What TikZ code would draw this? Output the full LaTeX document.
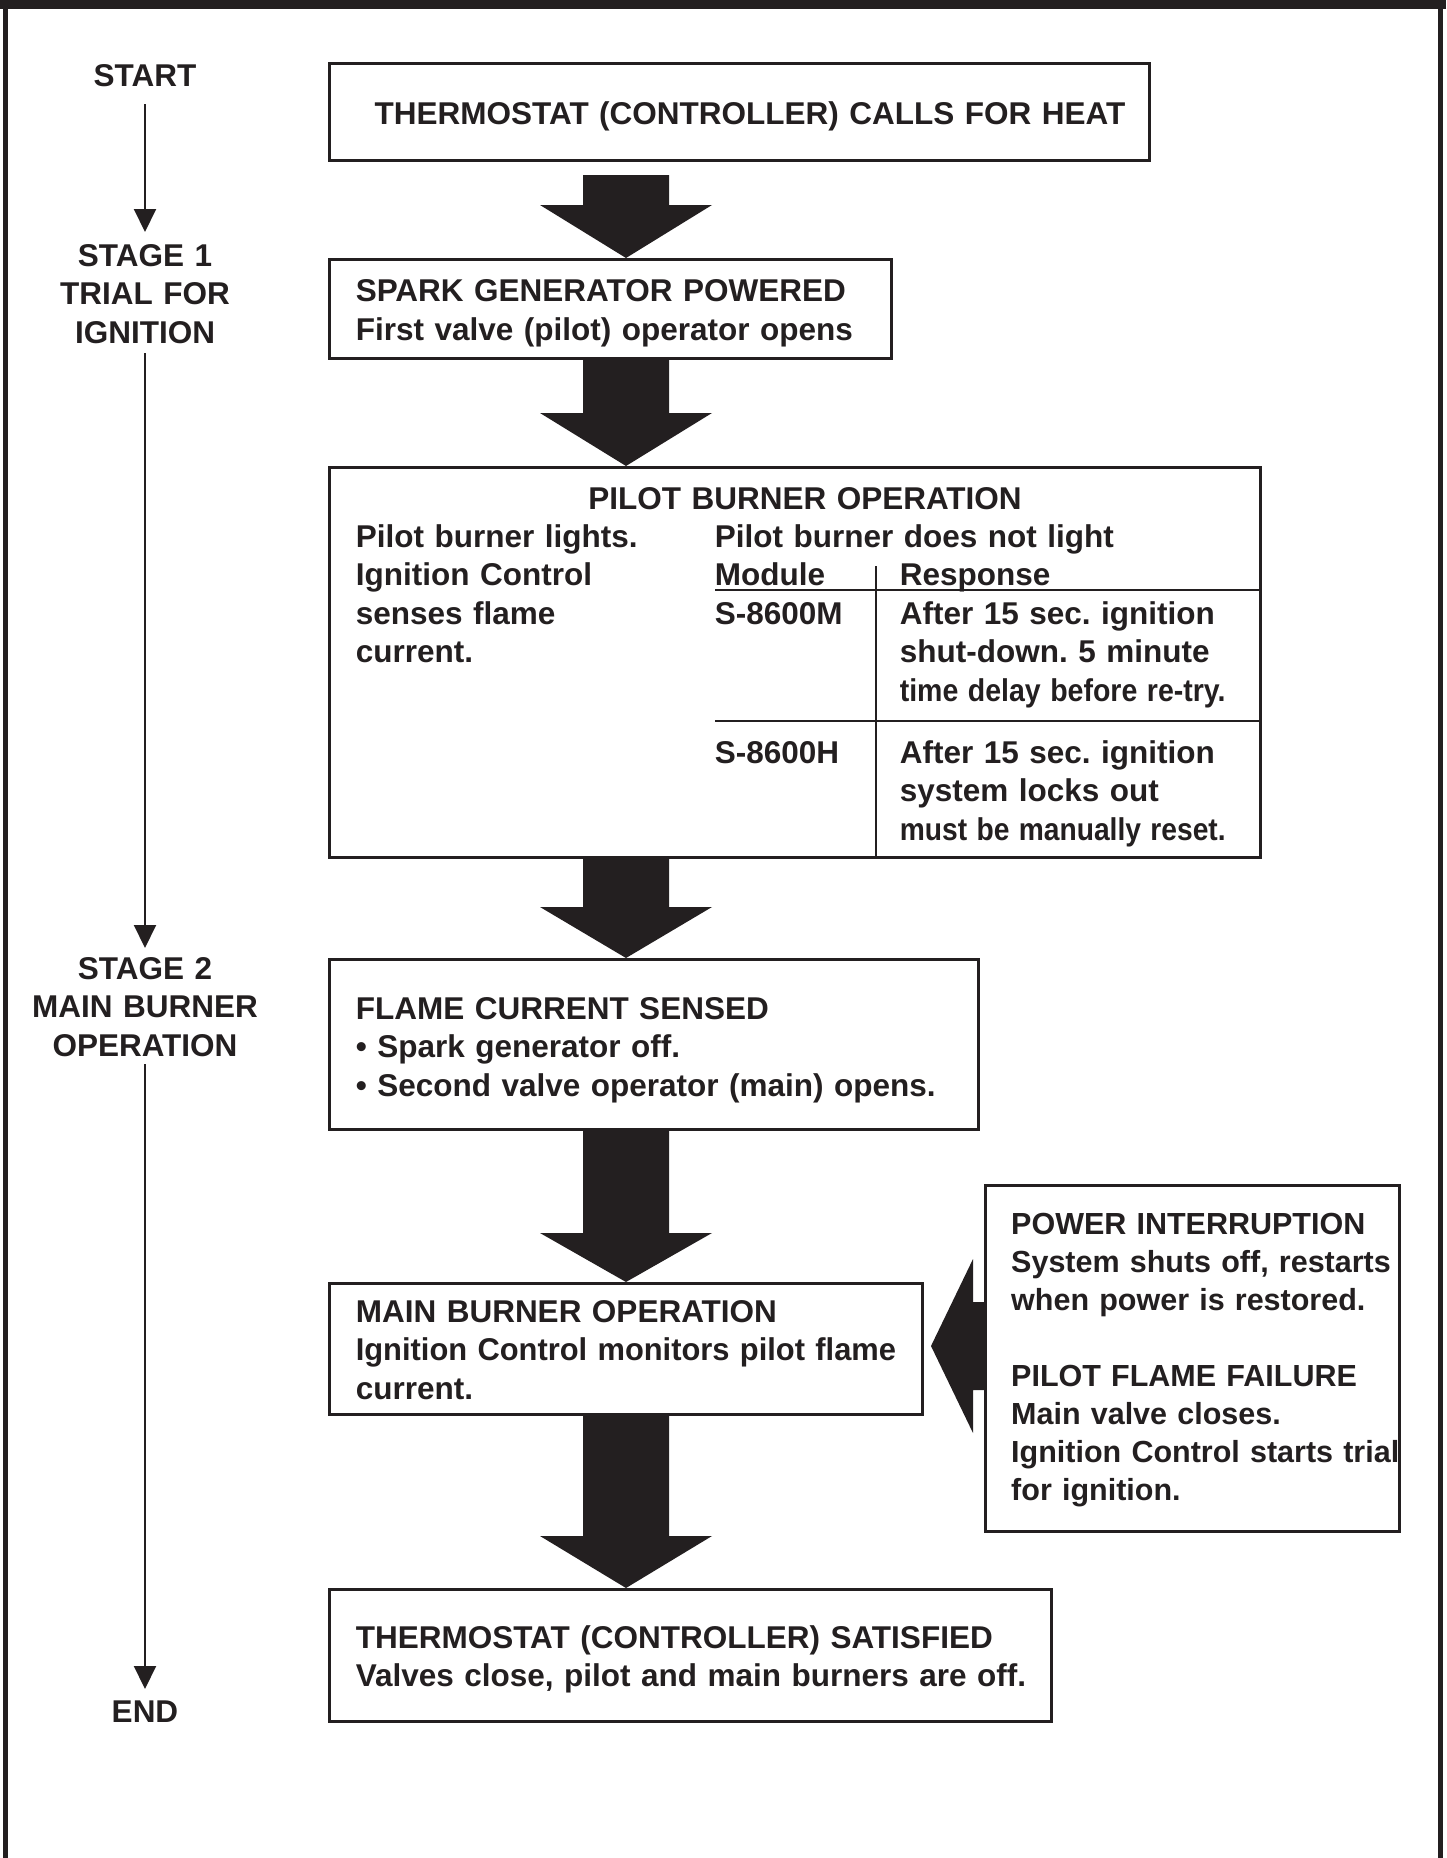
\documentclass[tikz,border=0pt]{standalone}
\usepackage{fontspec}
\usepackage{graphicx}
\setmainfont{Liberation Sans}
\usetikzlibrary{calc,arrows.meta}
\definecolor{ink}{HTML}{231F20}
\newcommand\fs{\fontsize{31.5}{38.5}\selectfont\bfseries\frenchspacing}
\newcommand\fss{\fontsize{30.5}{38}\selectfont\bfseries\frenchspacing}
\newcommand\cond[2][0.905]{\scalebox{#1}[1]{#2}}
\tikzset{
  box/.style={draw=ink, line width=2.5pt, inner sep=0pt, anchor=north west},
  txt/.style={inner sep=0pt, anchor=base west, text width=900pt, align=left, font=\fs, text=ink},
  ctxt/.style={inner sep=0pt, anchor=base, text width=300pt, align=center, font=\fs, text=ink},
  tline/.style={draw=ink, line width=2pt, -{Triangle[length=23pt,width=22pt]}},
  tab/.style={draw=ink, line width=2.5pt},
  barrow/.style={fill=ink}
}
\begin{document}
\begin{tikzpicture}[x=1pt,y=-1pt]
\useasboundingbox (0,0) rectangle (1446,1858);
% frame
\fill[ink] (0,0) rectangle (1446,8.5);
\fill[ink] (3,0) rectangle (8,1858);
\fill[ink] (1438,0) rectangle (1443,1858);

% boxes
\node[box, minimum width=820pt, minimum height=97pt] (b1) at (328,62) {};
\node[box, minimum width=562pt, minimum height=99pt] (b2) at (328,258) {};
\node[box, minimum width=931pt, minimum height=390pt] (b3) at (328,466) {};
\node[box, minimum width=649pt, minimum height=170pt] (b4) at (328,958) {};
\node[box, minimum width=593pt, minimum height=131pt] (b5) at (328,1282) {};
\node[box, minimum width=722pt, minimum height=132pt] (b6) at (328,1588) {};
\node[box, minimum width=414pt, minimum height=346pt] (side) at (984,1184) {};

% block arrows (down)
\coordinate (ax) at (626,0);
\fill[barrow] (583,175) -- (669,175) -- (669,205) -- (712,205) -- (b2.north -| ax) -- (540,205) -- (583,205) -- cycle;
\fill[barrow] (583,358) -- (669,358) -- (669,413) -- (712,413) -- (b3.north -| ax) -- (540,413) -- (583,413) -- cycle;
\fill[barrow] (583,857) -- (669,857) -- (669,907) -- (712,907) -- (b4.north -| ax) -- (540,907) -- (583,907) -- cycle;
\fill[barrow] (583,1129) -- (669,1129) -- (669,1233) -- (712,1233) -- (b5.north -| ax) -- (540,1233) -- (583,1233) -- cycle;
\fill[barrow] (583,1414) -- (669,1414) -- (669,1536) -- (712,1536) -- (b6.north -| ax) -- (540,1536) -- (583,1536) -- cycle;
% block arrow (left) from side box to main burner box
\coordinate (lt) at (931,1346);
\fill[barrow] (side.west |- 0,1302) -- (973,1302) -- (973,1259) -- (lt) -- (973,1433) -- (973,1390) -- (side.west |- 0,1390) -- cycle;

% table lines in pilot box
\draw[tab] (715,590) -- (b3.east |- 0,590);
\draw[tab] (715,721) -- (b3.east |- 0,721);
\draw[tab] (876,566) -- (876,856);

% timeline
\node[ctxt] (start) at (145,86) {START};
\node[ctxt] (stage1) at (145,266) {STAGE 1\\TRIAL FOR\\IGNITION};
\node[ctxt] (stage2) at (145,979) {STAGE 2\\MAIN BURNER\\OPERATION};
\node[ctxt] (endn) at (145,1722) {END};
\coordinate (t1a) at (145,104);
\coordinate (t1b) at (145,232);
\coordinate (t2a) at (145,353);
\coordinate (t2b) at (145,948);
\coordinate (t3a) at (145,1064);
\coordinate (t3b) at (145,1689);
\draw[tline] (t1a) -- (t1b);
\draw[tline] (t2a) -- (t2b);
\draw[tline] (t3a) -- (t3b);

% texts
\node[txt] (b1t) at (374.5,124.5) {THERMOSTAT (CONTROLLER) CALLS FOR HEAT};
\node[txt] (b2t) at (355.6,301.7) {SPARK GENERATOR POWERED\\First valve (pilot) operator opens};
\node[ctxt, text width=600pt] (b3title) at (805,509) {PILOT BURNER OPERATION};
\node[txt] (b3l) at (355.6,547) {Pilot burner lights.\\Ignition Control\\senses flame\\current.};
\node[txt] (b3r) at (714.7,547) {Pilot burner does not light};
\node[txt] (modh) at (714.7,585.5) {Module};
\node[txt] (resh) at (899.6,585.5) {Response};
\node[txt] (m1) at (714.7,624) {S-8600M};
\node[txt] (r1) at (899.6,624) {After 15 sec. ignition\\shut-down. 5 minute\\\cond{time delay before re-try.}};
\node[txt] (m2) at (714.7,763) {S-8600H};
\node[txt] (r2) at (899.6,763) {After 15 sec. ignition\\system locks out\\\cond[0.895]{must be manually reset.}};
\node[txt] (b4t) at (355.6,1019) {FLAME CURRENT SENSED\\\textbullet\ Spark generator off.\\\textbullet\ Second valve operator (main) opens.};
\node[txt] (b5t) at (355.6,1322) {MAIN BURNER OPERATION\\\cond[0.98]{Ignition Control monitors pilot flame}\\current.};
\node[txt] (b6t) at (355.6,1648) {THERMOSTAT (CONTROLLER) SATISFIED\\Valves close, pilot and main burners are off.};
\node[txt, font=\fss] (sidet) at (1011,1234) {POWER INTERRUPTION\\System shuts off, restarts\\when power is restored.\\[38pt]PILOT FLAME FAILURE\\Main valve closes.\\Ignition Control starts trial\\for ignition.};
\end{tikzpicture}
\end{document}
